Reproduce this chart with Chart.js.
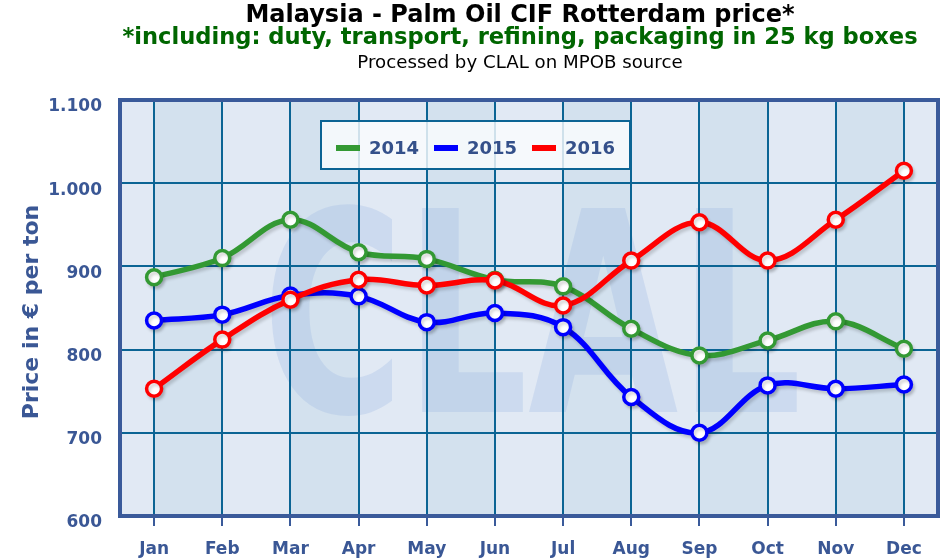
<!DOCTYPE html>
<html>
<head>
<meta charset="utf-8">
<script src="https://cdn.jsdelivr.net/npm/chart.js@4"></script>
<style>
  html, body { margin: 0; padding: 0; background: #ffffff; }
  #wrap { width: 950px; height: 560px; position: relative; }
</style>
</head>
<body>
<div id="wrap"><canvas id="palmChart"></canvas></div>
<script>
// Palm oil CIF Rotterdam, EUR per ton
const months = ['Jan', 'Feb', 'Mar', 'Apr', 'May', 'Jun', 'Jul', 'Aug', 'Sep', 'Oct', 'Nov', 'Dec'];
const price2014 = [887, 910, 956, 917, 909, 884, 876, 825, 793, 811, 834, 801];
const price2015 = [835, 842, 865, 864, 833, 844, 827, 743, 700, 757, 753, 758];
const price2016 = [753, 812, 860, 884, 877, 883, 853, 907, 953, 907, 956, 1015];
const seriesNames = ['2014', '2015', '2016'];
const yMin = 600, yMax = 1100, yStep = 100;

const titleText = 'Malaysia - Palm Oil CIF Rotterdam price*';
const subtitleText = '*including: duty, transport, refining, packaging in 25 kg boxes';
const sourceText = 'Processed by CLAL on MPOB source';
const yTitleText = 'Price in € per ton';

const AXIS_BLUE = '#3a5795';
const GRID = '#0b6494';
const FRAME = '#3a5a9a';

function fmtThousands(v) {
    return String(v).replace(/\B(?=(\d{3})+(?!\d))/g, '.');
}

// pick a font size so the text spans roughly the given width
function fitFont(ctx, text, weight, targetW) {
    ctx.font = weight + " 100px 'DejaVu Sans'";
    const size = 100 * targetW / ctx.measureText(text).width;
    return weight + ' ' + size.toFixed(1) + "px 'DejaVu Sans'";
}

// background bands + watermark, before the grid is drawn
const backdrop = {
    id: 'backdrop',
    beforeDraw(chart) {
        const { ctx, chartArea: a, scales: { x } } = chart;
        ctx.save();
        ctx.fillStyle = '#e1e9f4';
        ctx.fillRect(a.left, a.top, a.right - a.left, a.bottom - a.top);
        ctx.fillStyle = '#d3e1ee';
        for (let i = 0; i < months.length - 1; i += 2) {
            const x0 = x.getPixelForValue(i);
            const x1 = x.getPixelForValue(i + 1);
            ctx.fillRect(x0, a.top, x1 - x0, a.bottom - a.top);
        }
        // CLAL watermark
        ctx.fillStyle = 'rgba(150,180,225,0.28)';
        ctx.font = "bold 280px 'DejaVu Sans'";
        ctx.textBaseline = 'alphabetic';
        ctx.textAlign = 'left';
        const w = ctx.measureText('CLAL').width;
        ctx.translate(262, 412);
        ctx.scale(540 / w, 1);
        ctx.fillText('CLAL', 0, 0);
        ctx.restore();

        // header lines
        ctx.save();
        ctx.textAlign = 'center';
        ctx.textBaseline = 'middle';
        ctx.fillStyle = '#000000';
        ctx.font = fitFont(ctx, titleText, 'bold', 550);
        ctx.fillText(titleText, 520, 16);
        ctx.fillStyle = '#006600';
        ctx.font = fitFont(ctx, subtitleText, 'bold', 796);
        ctx.fillText(subtitleText, 520, 38);
        ctx.fillStyle = '#000000';
        ctx.font = fitFont(ctx, sourceText, 'normal', 326);
        ctx.fillText(sourceText, 520, 63);
        // y axis title
        ctx.fillStyle = AXIS_BLUE;
        ctx.font = "bold 22px 'DejaVu Sans'";
        ctx.translate(32, (a.top + a.bottom) / 2 + 4);
        ctx.rotate(-Math.PI / 2);
        ctx.fillText(yTitleText, 0, 0);
        ctx.restore();
    }
};

// soft drop shadow under each line
const lineShadow = {
    id: 'lineShadow',
    beforeDatasetDraw(chart) {
        const ctx = chart.ctx;
        ctx.save();
        ctx.shadowColor = 'rgba(0,0,0,0.16)';
        ctx.shadowOffsetX = 2;
        ctx.shadowOffsetY = 3;
        ctx.shadowBlur = 3;
    },
    afterDatasetDraw(chart) {
        chart.ctx.restore();
    }
};

// frame + legend box inside the plot
const frameAndLegend = {
    id: 'frameAndLegend',
    afterDatasetsDraw(chart) {
        const { ctx, chartArea: a } = chart;
        ctx.save();
        ctx.strokeStyle = FRAME;
        ctx.lineWidth = 4;
        ctx.strokeRect(a.left, a.top, a.right - a.left, a.bottom - a.top);

        const bx = 321, by = 121, bw = 309, bh = 48;
        ctx.fillStyle = 'rgba(250,252,254,0.82)';
        ctx.fillRect(bx, by, bw, bh);
        ctx.strokeStyle = GRID;
        ctx.lineWidth = 2;
        ctx.strokeRect(bx, by, bw, bh);

        ctx.font = "bold 18px 'DejaVu Sans'";
        ctx.textBaseline = 'middle';
        ctx.textAlign = 'left';
        chart.data.datasets.forEach((ds, i) => {
            const sx = 336 + i * 98;
            ctx.fillStyle = ds.borderColor;
            ctx.fillRect(sx, 145, 24, 6);
            ctx.fillStyle = '#34508a';
            ctx.fillText(ds.label, sx + 33, 149);
        });
        ctx.restore();
    }
};

function lineSet(label, data, color, order) {
    return {
        label: label,
        data: data,
        borderColor: color,
        backgroundColor: '#ffffff',
        borderWidth: 5.5,
        tension: 0.38,
        pointRadius: 7.5,
        pointBorderWidth: 3.5,
        pointBackgroundColor: '#ffffff',
        pointBorderColor: color,
        fill: false,
        order: order
    };
}

const ctx = document.getElementById('palmChart').getContext('2d');
const chart = new Chart(ctx, {
    type: 'line',
    data: {
        labels: months,
        datasets: [
            lineSet(seriesNames[0], price2014, '#339933', 2),
            lineSet(seriesNames[1], price2015, '#0000ff', 1),
            lineSet(seriesNames[2], price2016, '#ff0000', 0)
        ]
    },
    options: {
        responsive: true,
        maintainAspectRatio: false,
        animation: false,
        layout: { padding: { top: 100, right: 12, left: 0, bottom: 0 } },
        plugins: {
            legend: { display: false },
            title: { display: false },
            tooltip: { enabled: false }
        },
        scales: {
            x: {
                type: 'category',
                offset: true,
                afterFit: (s) => { s.height = 44; },
                grid: {
                    offset: false,
                    color: GRID,
                    lineWidth: 2,
                    drawTicks: true,
                    tickLength: 10,
                    tickColor: FRAME,
                    tickWidth: 2
                },
                border: { display: false },
                ticks: {
                    color: AXIS_BLUE,
                    font: { family: 'DejaVu Sans', size: 17, weight: 'bold' },
                    padding: 13,
                    maxRotation: 0,
                    autoSkip: false
                }
            },
            y: {
                min: yMin,
                max: yMax,
                afterFit: (s) => { s.width = 120; },
                grid: {
                    color: GRID,
                    lineWidth: 2,
                    drawTicks: false
                },
                border: { display: false },
                ticks: {
                    stepSize: yStep,
                    color: AXIS_BLUE,
                    font: { family: 'DejaVu Sans', size: 17, weight: 'bold' },
                    padding: 18,
                    labelOffset: 7,
                    callback: (v) => fmtThousands(v)
                }
            }
        }
    },
    plugins: [backdrop, lineShadow, frameAndLegend]
});
</script>
</body>
</html>
